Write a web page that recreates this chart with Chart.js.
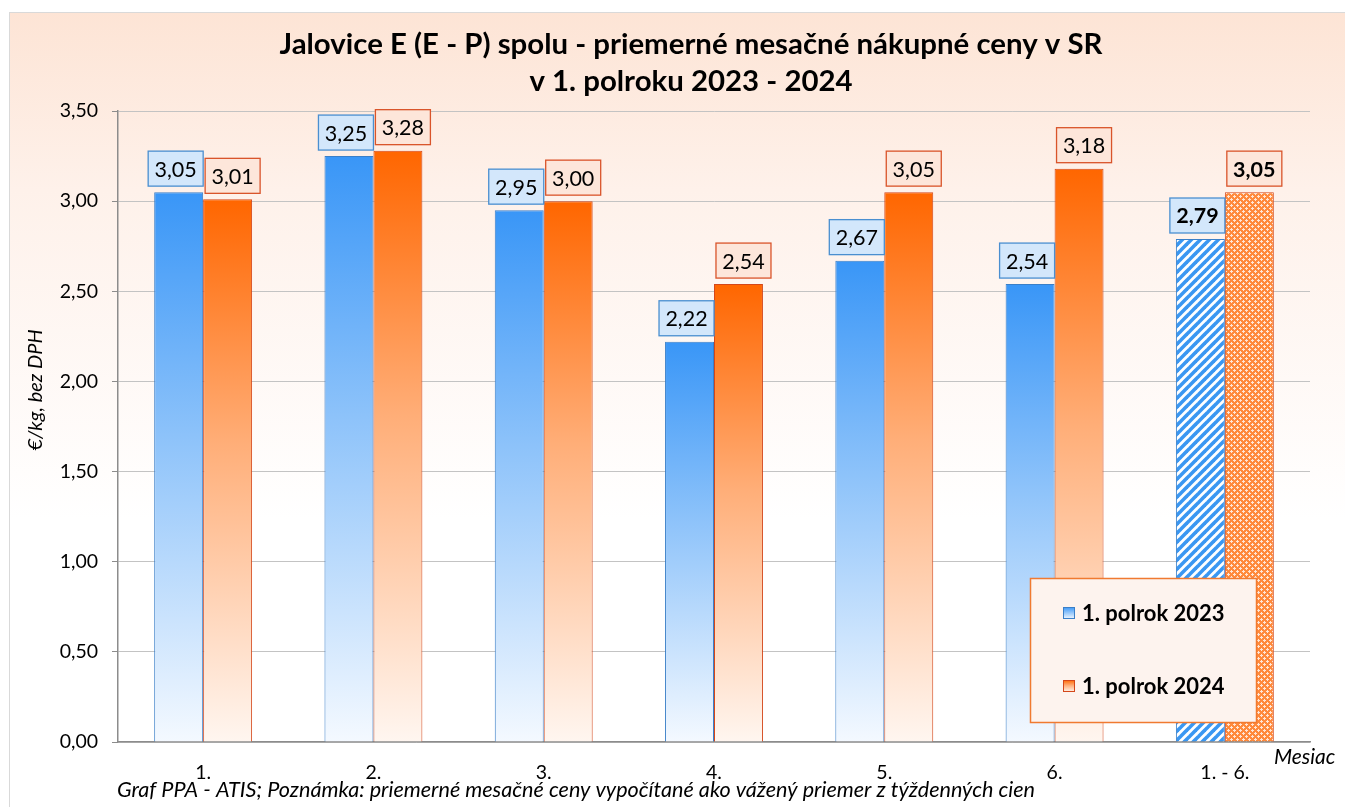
<!DOCTYPE html>
<html>
<head>
<meta charset="utf-8">
<script src="https://cdn.jsdelivr.net/npm/chart.js@4/dist/chart.umd.min.js"></script>
<style>
    html, body { margin: 0; padding: 0; background: #ffffff; }
    #wrap { width: 1345px; height: 807px; position: relative; }
</style>
</head>
<body>
<div id="wrap"><canvas id="chart" width="1345" height="807"></canvas></div>
<script>
// Chart data
const categories = ['1.', '2.', '3.', '4.', '5.', '6.', '1. - 6.'];
const prices2023 = [3.05, 3.25, 2.95, 2.22, 2.67, 2.54, 2.79];
const prices2024 = [3.01, 3.28, 3.00, 2.54, 3.05, 3.18, 3.05];
const seriesNames = ['1. polrok 2023', '1. polrok 2024'];
const yMin = 0, yMax = 3.5, yStep = 0.5;

const FONT = 'Lato, "Open Sans", sans-serif';

// Fill patterns for the half-year average bars
function makeStripePattern() {
    const p = 9;
    const c = document.createElement('canvas');
    c.width = p; c.height = p;
    const g = c.getContext('2d');
    g.fillStyle = '#ffffff';
    g.fillRect(0, 0, p, p);
    g.strokeStyle = '#3a97f2';
    g.lineWidth = 3.6;
    [[0, p, p, 0], [-p, p, p, -p], [0, 2 * p, 2 * p, 0]].forEach(function(l) {
        g.beginPath();
        g.moveTo(l[0], l[1]);
        g.lineTo(l[2], l[3]);
        g.stroke();
    });
    return g.createPattern(c, 'repeat');
}

function makeCrossPattern() {
    const c = document.createElement('canvas');
    c.width = 6; c.height = 6;
    const g = c.getContext('2d');
    g.fillStyle = '#ff8a3c';
    g.fillRect(0, 0, 6, 6);
    g.fillStyle = '#ffe6d6';
    g.fillRect(0, 1, 3, 1);
    g.fillRect(1, 0, 1, 3);
    g.fillRect(3, 4, 3, 1);
    g.fillRect(4, 3, 1, 3);
    return g.createPattern(c, 'repeat');
}

const stripePattern = makeStripePattern();
const crossPattern = makeCrossPattern();

// Vertical gradient from the bar top down to the axis
function barFill(stops, solid, pattern) {
    return function(context) {
        if (context.dataIndex === categories.length - 1) return pattern;
        const chart = context.chart;
        const area = chart.chartArea;
        if (!area || !chart.scales.y) return solid;
        const top = chart.scales.y.getPixelForValue(context.raw);
        const grad = chart.ctx.createLinearGradient(0, top, 0, area.bottom);
        stops.forEach(function(s) { grad.addColorStop(s[0], s[1]); });
        return grad;
    };
}

const blueStops = [[0, '#3996f7'], [0.45, '#8ec3fa'], [1, '#f4f9ff']];
const orangeStops = [[0, '#ff6600'], [0.45, '#ffae78'], [1, '#fff6f0']];

function fmt(v) {
    return v.toFixed(2).replace('.', ',');
}

// Background, frame and texts
const decorPlugin = {
    id: 'decor',
    beforeDraw: function(chart) {
        const ctx = chart.ctx;
        ctx.save();
        const bg = ctx.createLinearGradient(0, 12, 0, 520);
        bg.addColorStop(0, '#fde4d5');
        bg.addColorStop(0.35, '#fef1ea');
        bg.addColorStop(1, '#ffffff');
        ctx.fillStyle = bg;
        ctx.fillRect(10, 12, 1335, 795);
        ctx.strokeStyle = '#d9d9d9';
        ctx.lineWidth = 1;
        ctx.strokeRect(9.5, 12.5, 1340, 800);
        ctx.restore();
    },
    afterDraw: function(chart) {
        const ctx = chart.ctx;
        ctx.save();
        ctx.fillStyle = '#000000';
        ctx.textAlign = 'center';
        ctx.textBaseline = 'middle';
        ctx.font = 'bold 29.4px ' + FONT;
        ctx.fillText('Jalovice E (E - P) spolu - priemerné mesačné nákupné ceny v SR', 691, 45);
        ctx.fillText('v 1. polroku 2023 - 2024', 691, 82);

        ctx.font = 'italic 20px ' + FONT;
        ctx.save();
        ctx.translate(36, 390);
        ctx.rotate(-Math.PI / 2);
        ctx.fillText('€/kg, bez DPH', 0, 0);
        ctx.restore();

        ctx.textAlign = 'left';
        ctx.font = 'italic 21px ' + FONT;
        ctx.fillText('Mesiac', 1274, 757);
        ctx.font = 'italic 21.6px ' + FONT;
        ctx.fillText('Graf PPA - ATIS; Poznámka: priemerné mesačné ceny vypočítané ako vážený priemer z týždenných cien', 117, 790);

        // Legend box
        ctx.fillStyle = '#fdf3ee';
        ctx.fillRect(1030, 578, 227, 145);
        ctx.strokeStyle = '#f07a30';
        ctx.lineWidth = 1.5;
        ctx.strokeRect(1030.5, 578.5, 226, 144);
        const items = [
            { y: 613, stops: blueStops, border: '#3a7fc8' },
            { y: 686, stops: orangeStops, border: '#d4471a' }
        ];
        items.forEach(function(it, i) {
            const g = ctx.createLinearGradient(0, it.y - 6, 0, it.y + 6);
            it.stops.forEach(function(s) { g.addColorStop(s[0], s[1]); });
            ctx.fillStyle = g;
            ctx.fillRect(1063, it.y - 6, 12, 12);
            ctx.strokeStyle = it.border;
            ctx.lineWidth = 1;
            ctx.strokeRect(1063.5, it.y - 5.5, 11, 11);
            ctx.fillStyle = '#000000';
            ctx.font = 'bold 22px ' + FONT;
            ctx.textBaseline = 'middle';
            ctx.fillText(seriesNames[i], 1082, it.y + 1);
        });
        ctx.restore();
    }
};

// Value boxes above the bars
const labelPlugin = {
    id: 'valueBoxes',
    afterDatasetsDraw: function(chart) {
        const ctx = chart.ctx;
        const styles = [
            { fill: '#d3e7fb', border: '#4a8fd0', dx: -3 },
            { fill: '#fde6da', border: '#d9542a', dx: 5 }
        ];
        ctx.save();
        ctx.textAlign = 'center';
        ctx.textBaseline = 'middle';
        chart.data.datasets.forEach(function(ds, di) {
            const meta = chart.getDatasetMeta(di);
            meta.data.forEach(function(bar, i) {
                const last = i === categories.length - 1;
                const txt = fmt(ds.data[i]);
                ctx.font = (last ? 'bold ' : '') + '21.5px ' + FONT;
                const w = 55, h = 35;
                const cx = bar.x + styles[di].dx;
                const bottom = bar.y - 6;
                ctx.fillStyle = styles[di].fill;
                ctx.fillRect(cx - w / 2, bottom - h, w, h);
                ctx.strokeStyle = styles[di].border;
                ctx.lineWidth = 1.3;
                ctx.strokeRect(cx - w / 2, bottom - h, w, h);
                ctx.fillStyle = '#000000';
                ctx.fillText(txt, cx, bottom - h / 2 + 1);
            });
        });
        ctx.restore();
    }
};

const ctx = document.getElementById('chart').getContext('2d');
const chart = new Chart(ctx, {
    type: 'bar',
    data: {
        labels: categories,
        datasets: [{
            label: seriesNames[0],
            data: prices2023,
            backgroundColor: barFill(blueStops, '#3996f7', stripePattern),
            borderColor: '#3a7fc8',
            borderWidth: 1,
            categoryPercentage: 0.575,
            barPercentage: 1
        }, {
            label: seriesNames[1],
            data: prices2024,
            backgroundColor: barFill(orangeStops, '#ff6600', crossPattern),
            borderColor: '#d4471a',
            borderWidth: 1,
            categoryPercentage: 0.575,
            barPercentage: 1
        }]
    },
    options: {
        responsive: false,
        animation: false,
        layout: { padding: { left: 0, top: 111, right: 35, bottom: 0 } },
        plugins: {
            legend: { display: false },
            tooltip: { enabled: false },
            title: { display: false }
        },
        scales: {
            x: {
                grid: { display: false, drawTicks: false },
                border: { color: '#8c8c8c', width: 1.5 },
                ticks: {
                    color: '#000000',
                    padding: 19,
                    font: { family: FONT, size: 19.5 },
                    maxRotation: 0
                },
                afterFit: function(scale) { scale.height = 65; }
            },
            y: {
                min: yMin,
                max: yMax,
                grid: { color: '#c3c3c3', lineWidth: 1, tickLength: 6, tickColor: '#8c8c8c' },
                border: { color: '#8c8c8c', width: 1.5 },
                ticks: {
                    stepSize: yStep,
                    color: '#000000',
                    padding: 14,
                    font: { family: FONT, size: 19.5 },
                    callback: function(value) { return fmt(value); }
                },
                afterFit: function(scale) { scale.width = 118; }
            }
        }
    },
    plugins: [decorPlugin, labelPlugin]
});
</script>
</body>
</html>
